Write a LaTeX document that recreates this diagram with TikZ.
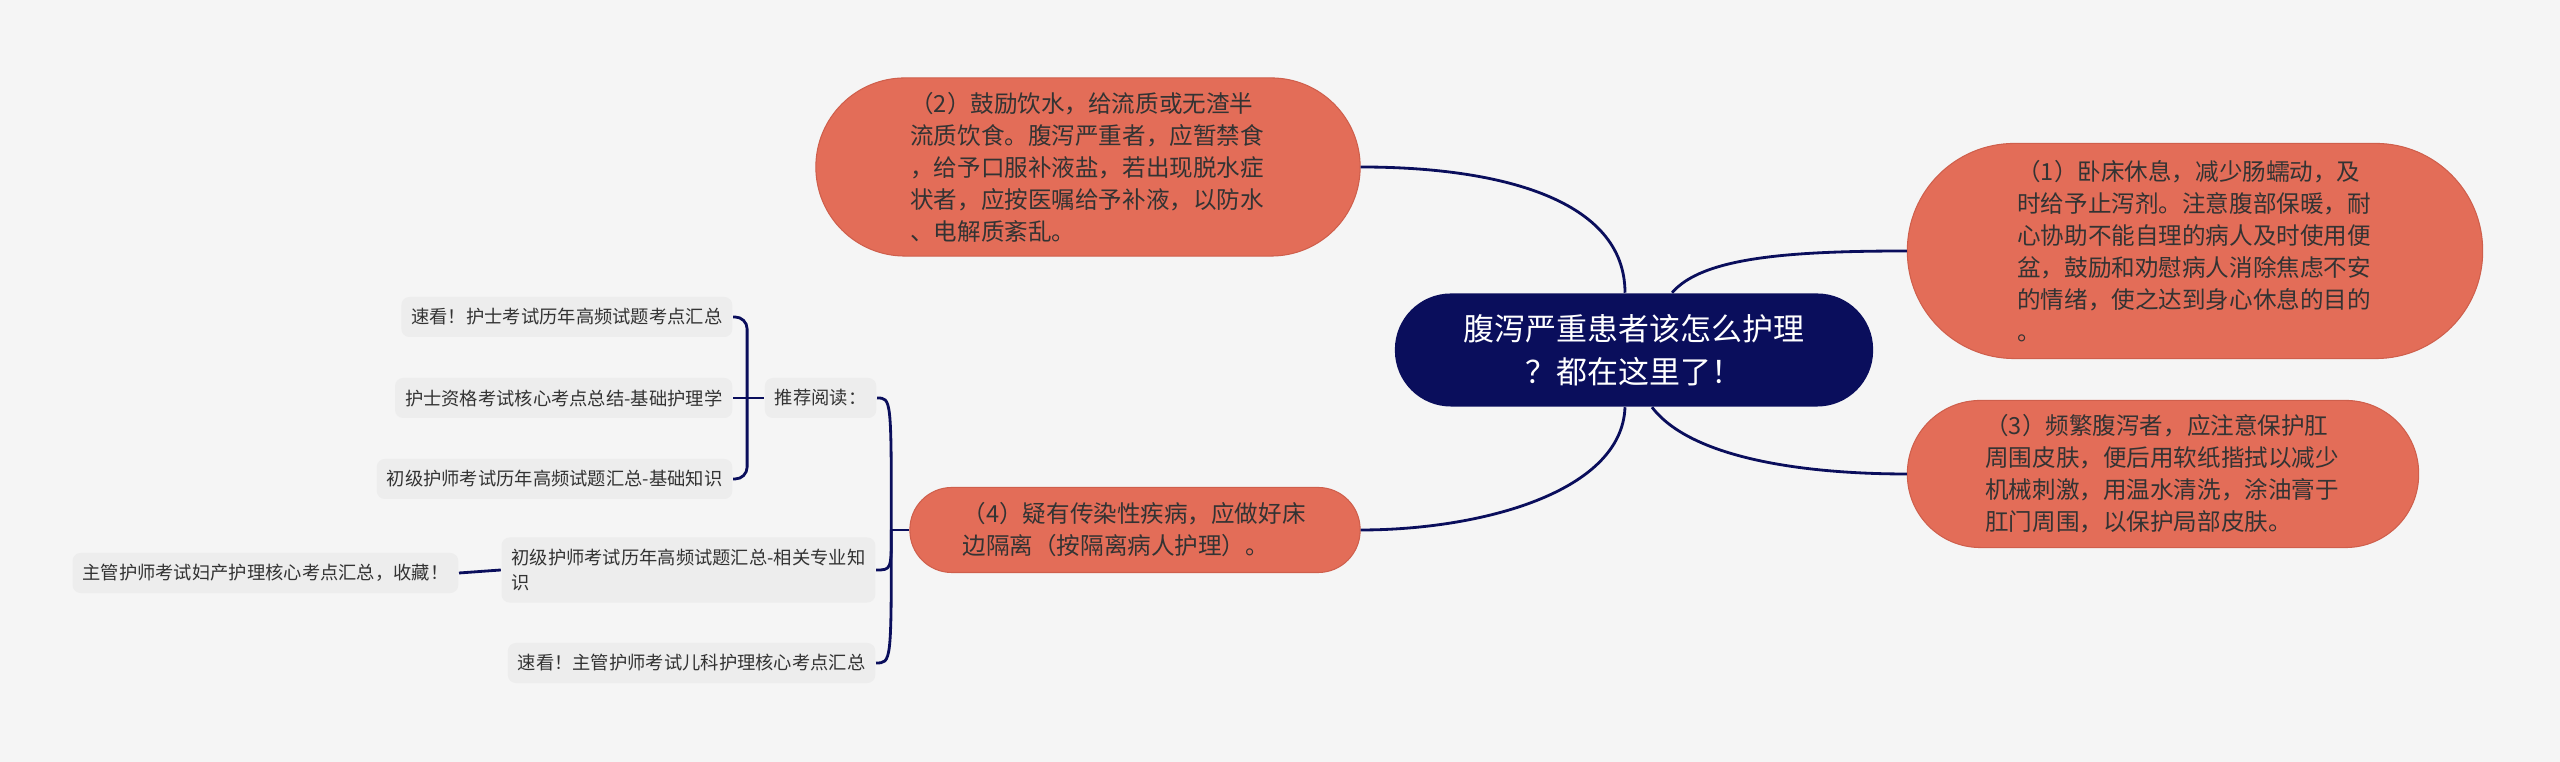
\documentclass[tikz,border=0pt]{standalone}
\usepackage{fontspec}
\setmainfont{Noto Sans CJK SC}

\definecolor{bgcol}{HTML}{F5F5F5}
\definecolor{navy}{HTML}{0A0E5C}
\definecolor{topicfill}{HTML}{E36D58}
\definecolor{topicline}{HTML}{CF5F4C}
\definecolor{leaffill}{HTML}{EDEDED}
\definecolor{inktext}{HTML}{333333}

\begin{document}
\begin{tikzpicture}[x=0.01cm, y=-0.01cm,
    link/.style={draw=navy, line width=0.8pt},
    root/.style={fill=navy, text=white, align=center, inner sep=0pt,
        minimum width=4.78cm, minimum height=1.13cm, rounded corners=0.56cm,
        font=\fontsize{8.8pt}{12.2pt}\selectfont},
    topic/.style={fill=topicfill, draw=topicline, line width=0.3pt, text=inktext,
        align=left, inner sep=0pt, text width=101pt, rounded corners=#1,
        font=\fontsize{6.7pt}{9.1pt}\selectfont},
    leaf/.style={fill=leaffill, text=inktext, rounded corners=0.08cm,
        inner xsep=0.1cm, inner ysep=0pt, minimum height=0.40cm, align=left,
        font=\fontsize{5.2pt}{7.1pt}\selectfont}]

\fill[bgcol] (0,0) rectangle (2560,762);
\useasboundingbox (0,0) rectangle (2560,762);

\path (1634,350) node[root] (q) {腹泻严重患者该怎么护理\\？都在这里了！};

\path (2195,251) node[topic=1.07cm, minimum width=5.75cm, minimum height=2.15cm] (t1)
    {（1）卧床休息，减少肠蠕动，及\\时给予止泻剂。注意腹部保暖，耐\\心协助不能自理的病人及时使用便\\盆，鼓励和劝慰病人消除焦虑不安\\的情绪，使之达到身心休息的目的\\。};
\path (1088,167) node[topic=0.89cm, minimum width=5.44cm, minimum height=1.78cm] (t2)
    {（2）鼓励饮水，给流质或无渣半\\流质饮食。腹泻严重者，应暂禁食\\，给予口服补液盐，若出现脱水症\\状者，应按医嘱给予补液，以防水\\、电解质紊乱。};
\path (2163,474) node[topic=0.73cm, minimum width=5.11cm, minimum height=1.47cm] (t3)
    {（3）频繁腹泻者，应注意保护肛\\周围皮肤，便后用软纸揩拭以减少\\机械刺激，用温水清洗，涂油膏于\\肛门周围，以保护局部皮肤。};
\path (1135,530) node[topic=0.42cm, text width=98pt, minimum width=4.50cm, minimum height=0.85cm] (t4)
    {（4）疑有传染性疾病，应做好床\\边隔离（按隔离病人护理）。};

\path (877,398) node[leaf, anchor=east] (read) {推荐阅读：};
\path (733,317) node[leaf, anchor=east] (l1) {速看！护士考试历年高频试题考点汇总};
\path (733,398) node[leaf, anchor=east] (l2) {护士资格考试核心考点总结-基础护理学};
\path (733,479) node[leaf, anchor=east] (l3) {初级护师考试历年高频试题汇总-基础知识};
\path (876,570) node[leaf, anchor=east, minimum height=0.65cm] (m2) {初级护师考试历年高频试题汇总-相关专业知\\识};
\path (459,573) node[leaf, anchor=east] (m1) {主管护师考试妇产护理核心考点汇总，收藏！};
\path (876,663) node[leaf, anchor=east] (k1) {速看！主管护师考试儿科护理核心考点汇总};

\coordinate (j4) at ([xshift=-0.18cm]t4.west);
\coordinate (j5) at ([xshift=-0.17cm]read.west);

\draw[link] ([xshift=-0.09cm]q.north) .. controls +(0,-93) and +(140,0) .. (t2.east);
\draw[link] ([xshift=0.38cm]q.north) .. controls +(30,-35) and +(-120,0) .. (t1.west);
\draw[link] ([xshift=0.18cm]q.south) .. controls +(38,50) and +(-107,0) .. (t3.west);
\draw[link] ([xshift=-0.09cm]q.south) .. controls +(-3,85) and +(120,0) .. (t4.east);

\draw[link] (t4.west) -- (j4);
\foreach \n in {read, m2, k1}
{
    \draw[link] (j4) .. controls (j4 |- \n.east) and (j4 |- \n.east) .. (\n.east);
}

\draw[link, rounded corners=0.12cm] (l1.east) -| (j5) |- (l3.east);
\draw[link] (l2.east) -- (read.west);
\draw[link] (m1.east) -- (m2.west);

\end{tikzpicture}
\end{document}
